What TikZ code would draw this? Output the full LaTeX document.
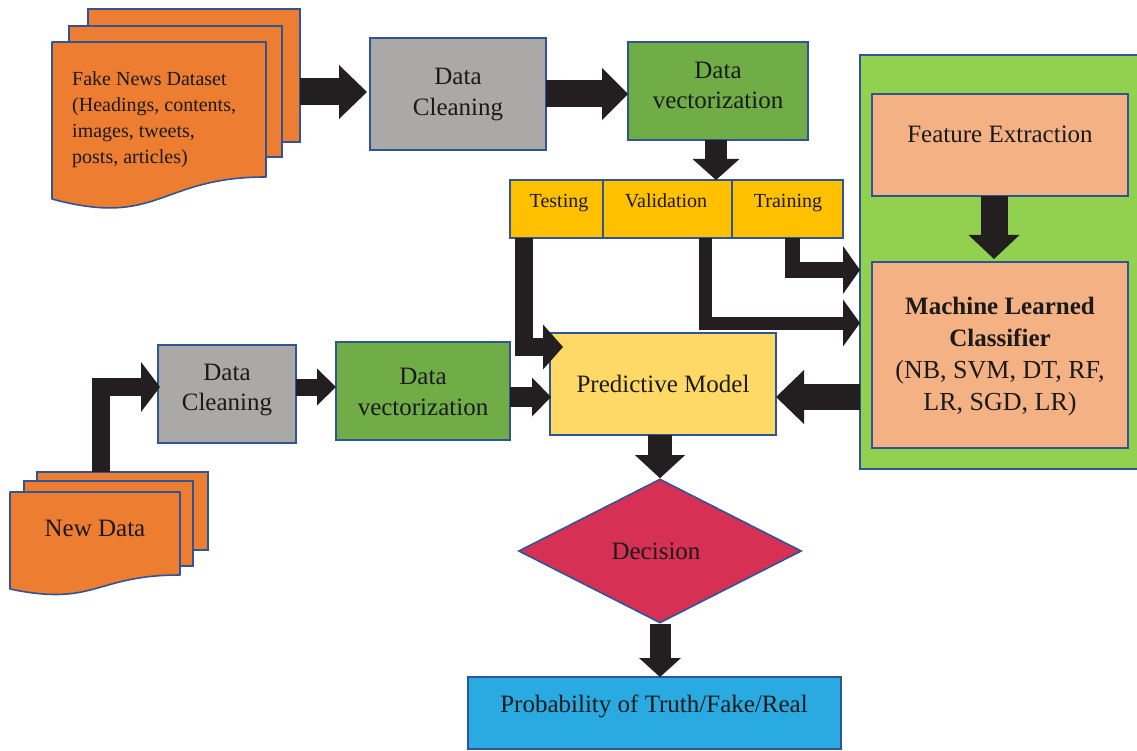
\documentclass[tikz,border=0pt]{standalone}
\usepackage{fontspec}
\setmainfont{Liberation Serif}
\usetikzlibrary{calc,shapes.geometric}

\definecolor{bordc}{HTML}{2F5597}
\definecolor{arrc}{HTML}{231F20}
\definecolor{txtc}{HTML}{1A1A1A}
\definecolor{docc}{HTML}{ED7D31}
\definecolor{cleanc}{HTML}{ABA9A8}
\definecolor{vecc}{HTML}{70AD47}
\definecolor{splitc}{HTML}{FFC000}
\definecolor{predc}{HTML}{FFD966}
\definecolor{panelc}{HTML}{92D050}
\definecolor{salmonc}{HTML}{F4B183}
\definecolor{decc}{HTML}{D63155}
\definecolor{probc}{HTML}{29ABE2}

\tikzset{
  box/.style={draw=bordc, line width=1.6pt, anchor=north west, inner sep=0pt, outer sep=0pt},
  docline/.style={draw=bordc, line width=1.6pt, fill=docc, line join=round},
  lbl/.style={font=\fontsize{25}{31}\selectfont, align=center, inner sep=0pt, text=txtc},
  small/.style={font=\fontsize{20}{26}\selectfont, inner sep=0pt, text=txtc},
  shaft/.style={draw=arrc, line width=#1},
}

% filled triangular heads: tip point, length, width
\newcommand\tipR[3]{\fill[arrc] (#1) -- ++(-#2,#3/2) -- ++(0,-#3) -- cycle;}
\newcommand\tipL[3]{\fill[arrc] (#1) -- ++(#2,#3/2) -- ++(0,-#3) -- cycle;}
\newcommand\tipD[3]{\fill[arrc] (#1) -- ++(#3/2,-#2) -- ++(-#3,0) -- cycle;}

\begin{document}
\begin{tikzpicture}[x=1pt,y=-1pt]
\useasboundingbox (0,0) rectangle (1137,751);
\clip (0,0) rectangle (1137,751);

% ---------- dataset stack ----------
\node[box, fill=docc, minimum width=212pt, minimum height=133pt] (fakeB) at (88,9) {};
\node[box, fill=docc, minimum width=213pt, minimum height=131pt] (fakeC) at (69,26) {};
\path[docline] (52,42) -- (266,42) -- (266,177)
  .. controls (159,177) and (159,228) .. (52,199) -- cycle;
\node[small, anchor=west, align=left] (fake) at (72,120)
  {Fake News Dataset\\(Headings, contents,\\images, tweets,\\posts, articles)};

% ---------- upper processing row ----------
\node[box, fill=cleanc, minimum width=176pt, minimum height=112pt] (clean1) at (370,38) {};
\node[lbl] (clean1t) at (458,95) {Data\\Cleaning};

\node[box, fill=vecc, minimum width=180pt, minimum height=98pt] (vec1) at (628,42) {};
\node[lbl, font=\fontsize{25}{30}\selectfont] (vec1t) at (718,85) {Data\\vectorization};

% ---------- split ----------
\node[box, fill=splitc, minimum width=93pt, minimum height=58pt] (test) at (510,180) {};
\node[box, fill=splitc, minimum width=129pt, minimum height=58pt] (valid) at (603,180) {};
\node[box, fill=splitc, minimum width=111pt, minimum height=58pt] (train) at (732,180) {};
\node[small, anchor=base] (testt) at (559,208) {Testing};
\node[small, anchor=base] (validt) at (666,208) {Validation};
\node[small, anchor=base] (traint) at (788,208) {Training};

% ---------- classifier panel ----------
\node[box, fill=panelc, minimum width=290pt, minimum height=414pt] (panel) at (860,55) {};
\node[box, fill=salmonc, minimum width=256pt, minimum height=102pt] (feat) at (872,94) {};
\node[lbl, anchor=base] (featt) at (1000,143) {Feature Extraction};
\node[box, fill=salmonc, minimum width=256pt, minimum height=186pt] (ml) at (872,262) {};
\node[lbl, font=\fontsize{25}{32}\selectfont] (mlt) at (1000,357)
  {\textbf{Machine Learned}\\\textbf{Classifier}\\{\fontsize{26}{32}\selectfont (NB, SVM, DT, RF,}\\{\fontsize{26}{32}\selectfont LR, SGD, LR)}};

% ---------- prediction ----------
\node[box, fill=predc, minimum width=226pt, minimum height=102pt] (pred) at (550,333) {};
\node[lbl, anchor=base] (predt) at (663,392) {Predictive Model};

\node[diamond, draw=bordc, line width=1.6pt, fill=decc, minimum width=283pt,
      minimum height=144pt, inner sep=0pt, lbl] (dec) at (660,551) {};
\node[lbl, anchor=base] (dect) at (656,559) {Decision};

\node[box, fill=probc, minimum width=373pt, minimum height=72pt] (prob) at (468,677) {};
\node[lbl, anchor=base] (probt) at (654,712) {Probability of Truth/Fake/Real};

% ---------- lower processing row ----------
\node[box, fill=cleanc, minimum width=138pt, minimum height=98pt] (clean2) at (158,345) {};
\node[lbl, font=\fontsize{25}{30}\selectfont] (clean2t) at (227,390) {Data\\Cleaning};

\node[box, fill=vecc, minimum width=174pt, minimum height=98pt] (vec2) at (336,342) {};
\node[lbl, font=\fontsize{25}{31}\selectfont] (vec2t) at (423,392) {Data\\vectorization};

% ---------- new data stack ----------
\node[box, fill=docc, minimum width=171pt, minimum height=78pt] (ndB) at (37,472) {};
\node[box, fill=docc, minimum width=169pt, minimum height=85pt] (ndC) at (24,481) {};
\path[docline] (10,492) -- (180,492) -- (180,575)
  .. controls (95,575) and (95,607) .. (10,589) -- cycle;
\node[lbl, anchor=base] (nd) at (95,536) {New Data};

% ---------- block arrows ----------
% dataset -> cleaning
\coordinate (t1) at ($(clean1.west)+(-3,-2)$);
\draw[shaft=27pt] (fakeB.east |- t1) -- ($(t1)+(-27,0)$);
\tipR{t1}{28}{54}
% cleaning -> vectorization
\coordinate (t2) at (vec1.west |- clean1.east);
\draw[shaft=27pt] (clean1.east) -- ($(t2)+(-25,0)$);
\tipR{t2}{26}{52}
% vectorization -> split
\coordinate (t3) at ($(vec1.south |- valid.north)+(-2,0)$);
\draw[shaft=22pt] ($(vec1.south)+(-2,0)$) -- ($(t3)+(0,-20)$);
\tipD{t3}{21}{47}
% testing -> predictive model
\coordinate (t4) at ($(pred.north west)+(13,14)$);
\draw[shaft=18pt] ($(test.south west)+(14,0)$) |- ($(t4)+(-19,0)$);
\tipR{t4}{20}{45}
% validation -> classifier
\coordinate (t5) at ($(panel.west)+(0,61)$);
\draw[shaft=13pt] ($(valid.south)+(38,0)$) |- ($(t5)+(-16,0)$);
\tipR{t5}{17}{47}
% training -> classifier
\coordinate (t6) at ($(panel.west)+(0,8)$);
\draw[shaft=15pt] ($(train.south)+(5,0)$) |- ($(t6)+(-16,0)$);
\tipR{t6}{17}{48}
% feature extraction -> classifier
\coordinate (t7) at ($(ml.north)+(-6,-3)$);
\draw[shaft=27pt] ($(feat.south)+(-6,0)$) -- ($(t7)+(0,-23)$);
\tipD{t7}{24}{51}
% classifier panel -> predictive model
\coordinate (t8) at ($(pred.east)+(0,13)$);
\draw[shaft=26pt] (panel.west |- t8) -- ($(t8)+(27,0)$);
\tipL{t8}{28}{54}
% new data -> cleaning
\coordinate (t9) at ($(clean2.west)+(2,-7)$);
\draw[shaft=18pt] ($(ndB.north west)+(64,0)$) |- ($(t9)+(-18,0)$);
\tipR{t9}{19}{50}
% cleaning -> vectorization (lower)
\coordinate (t10) at ($(vec2.west)+(0,-4)$);
\draw[shaft=17pt] (clean2.east |- t10) -- ($(t10)+(-18,0)$);
\tipR{t10}{19}{37}
% vectorization -> predictive model
\coordinate (t11) at ($(pred.west)+(1,13)$);
\draw[shaft=20pt] (vec2.east |- t11) -- ($(t11)+(-18,0)$);
\tipR{t11}{19}{39}
% predictive model -> decision
\coordinate (t12) at (dec.north);
\draw[shaft=24pt] (dec.north |- pred.south) -- ($(t12)+(0,-22)$);
\tipD{t12}{23}{50}
% decision -> probability
\coordinate (t13) at (dec.south |- prob.north);
\draw[shaft=21pt] (dec.south) -- ($(t13)+(0,-18)$);
\tipD{t13}{19}{42}

\end{tikzpicture}
\end{document}
